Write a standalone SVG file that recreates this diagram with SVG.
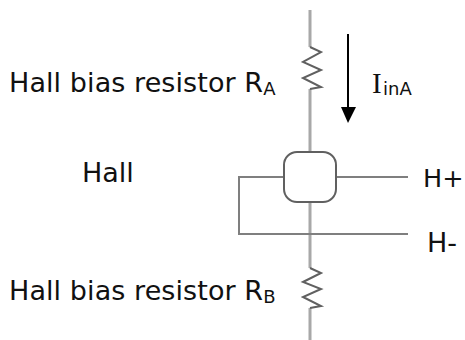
<svg xmlns="http://www.w3.org/2000/svg" width="465" height="340" viewBox="0 0 465 340">
<style>
text{font-family:"DejaVu Sans",sans-serif;font-size:27px;fill:#111}
.l{letter-spacing:.08px}
.s{font-size:18px}
.i{font-family:"Liberation Serif",serif;font-size:29px}
.w{fill:none;stroke:#a8a8a8;stroke-width:3}
.t{fill:none;stroke:#7f7f7f;stroke-width:2}
.r{fill:none;stroke:#606060;stroke-width:2}
</style>
<rect width="465" height="340" fill="#fff"/>
<g id="connectors">
<path class="w" d="M310 10V47M310 89V152M310 202V268M310 308V340"/>
<path class="t" d="M284 177H239V234H408M336 177H408"/>
<path d="M348 34V110" fill="none" stroke="#000" stroke-width="2"/>
<path d="M341 107H356L348 123Z" fill="#000"/>
</g>
<g id="resistor-a"><path class="r" d="M310 47L321 52L303 62L321 70L303 78L321 87L310 89"/></g>
<g id="resistor-b"><path class="r" d="M310 268L321 273L303 282L321 289L303 297L321 306L310 308"/></g>
<g id="hall"><rect x="284" y="152" width="52" height="50" rx="13" fill="#fff" stroke="#606060" stroke-width="2"/></g>
<g id="label-ra"><text class="l" x="9" y="92">Hall bias resistor R<tspan class="s" dy="3">A</tspan></text></g>
<g id="label-iina"><text x="372" y="93"><tspan class="i">I</tspan><tspan class="s" x="383" dy="2">inA</tspan></text></g>
<g id="label-hall"><text x="82" y="182">Hall</text></g>
<g id="label-hp"><text x="423" y="187" style="font-size:25.5px">H+</text></g>
<g id="label-hm"><text x="427" y="252">H-</text></g>
<g id="label-rb"><text class="l" x="9" y="300">Hall bias resistor R<tspan class="s" dy="3">B</tspan></text></g>
</svg>
